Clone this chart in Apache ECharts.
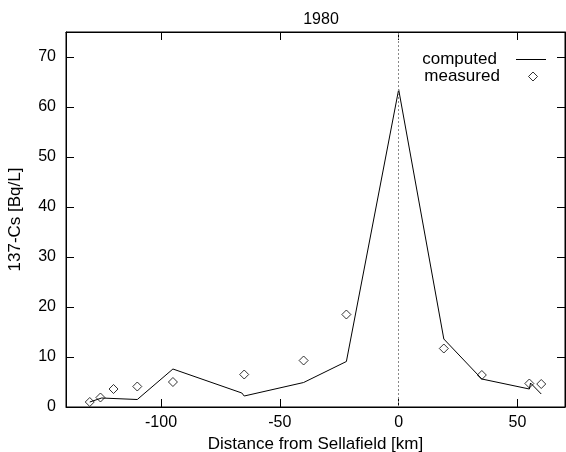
<!DOCTYPE html>
<html>
<head>
<meta charset="utf-8">
<script src="https://cdn.jsdelivr.net/npm/echarts@6/dist/echarts.min.js"></script>
<style>
html,body{margin:0;padding:0;background:#fff;}
#c{width:566px;height:452px;}
</style>
</head>
<body>
<div id="c"></div>
<script>
var titleText = '1980';
var xTicks = [-100, -50, 0, 50];
var yTicks = [0, 10, 20, 30, 40, 50, 60, 70];
var computedX = [-130, -125, -110, -95, -66, -65, -40, -22, 0, 19, 35, 55, 55.5, 60];
var computedY = [1.0, 1.8, 1.5, 7.6, 2.8, 2.2, 4.9, 9.1, 63.5, 13.6, 5.6, 3.6, 4.8, 2.6];
var measuredX = [-130, -125.5, -120, -110, -95, -65, -40, -22, 19, 35, 55, 60];
var measuredY = [1.0, 1.9, 3.6, 4.1, 5.0, 6.5, 9.3, 18.5, 11.7, 6.4, 4.7, 4.6];

var FONT = '"Liberation Sans", Arial, Helvetica, sans-serif';
function pairs(xs, ys){ return xs.map(function(x,i){ return [x, ys[i]]; }); }
var DIAMOND = 'path://M5,0L10,5L5,10L0,5Z';

var chart = echarts.init(document.getElementById('c'), null, {renderer:'canvas'});
function tick(vals){ return {show:true, inside:true, length:8, customValues:vals, lineStyle:{color:'#000', width:1}}; }
var line = {show:true, onZero:false, lineStyle:{color:'#000', width:1}};
var legendText = {fontFamily:FONT, fontSize:17, color:'#000'};
chart.setOption({
  backgroundColor:'#fff',
  animation:false,
  title:{text:titleText, left:316, textAlign:'center', top:7,
    textStyle:{fontFamily:FONT, fontSize:16, fontWeight:'normal', color:'#000'}},
  grid:{left:66, right:1, top:32, bottom:45, outerBoundsMode:'none', containLabel:false,
    show:true, borderColor:'#000', borderWidth:1, backgroundColor:'transparent'},
  legend:[
    {orient:'vertical', right:15, top:46, align:'right', itemWidth:30, itemHeight:1,
      textStyle:legendText, formatter:function(n){ return n + '   '; }, selectedMode:false,
      data:[{name:'computed', icon:'rect', itemStyle:{color:'#000'}}]},
    {orient:'vertical', right:23, top:63, align:'right', itemWidth:9, itemHeight:9,
      textStyle:legendText, formatter:function(n){ return n + '     '; }, selectedMode:false,
      data:[{name:'measured', icon:DIAMOND, itemStyle:{color:'#fff', borderColor:'#000', borderWidth:1}}]}
  ],
  xAxis:[
    {type:'value', position:'bottom', min:-140, max:70,
      name:'Distance from Sellafield [km]', nameLocation:'middle', nameGap:24,
      nameTextStyle:{fontFamily:FONT, fontSize:17, color:'#000'},
      axisLine:line, splitLine:{show:false}, axisTick:tick(xTicks),
      axisLabel:{show:true, customValues:xTicks, fontFamily:FONT, fontSize:16, color:'#000', margin:8}},
    {type:'value', position:'top', min:-140, max:70,
      axisLine:line, splitLine:{show:false}, axisTick:tick(xTicks),
      axisLabel:{show:false}}
  ],
  yAxis:[
    {type:'value', position:'left', min:0, max:75,
      name:'137-Cs [Bq/L]', nameLocation:'middle', nameGap:42, nameRotate:90,
      nameTextStyle:{fontFamily:FONT, fontSize:17, color:'#000'},
      axisLine:line, splitLine:{show:false}, axisTick:tick(yTicks),
      axisLabel:{show:true, customValues:yTicks, fontFamily:FONT, fontSize:16, color:'#000', margin:10}},
    {type:'value', position:'right', min:0, max:75,
      axisLine:line, splitLine:{show:false}, axisTick:tick(yTicks),
      axisLabel:{show:false}}
  ],
  series:[
    {name:'computed', type:'line', data:pairs(computedX, computedY),
      xAxisIndex:0, yAxisIndex:0,
      symbol:'none', lineStyle:{color:'#000', width:1}, itemStyle:{color:'#000'},
      markLine:{silent:true, symbol:'none', label:{show:false},
        lineStyle:{color:'#888', type:[2,2], width:1},
        data:[{xAxis:0}]}
    },
    {name:'measured', type:'scatter', data:pairs(measuredX, measuredY),
      xAxisIndex:0, yAxisIndex:0,
      symbol:'diamond', symbolSize:9,
      itemStyle:{color:'#fff', borderColor:'#000', borderWidth:1}},
    {name:'_frame', type:'scatter', data:[], xAxisIndex:1, yAxisIndex:1, silent:true}
  ]
});
</script>
</body>
</html>
